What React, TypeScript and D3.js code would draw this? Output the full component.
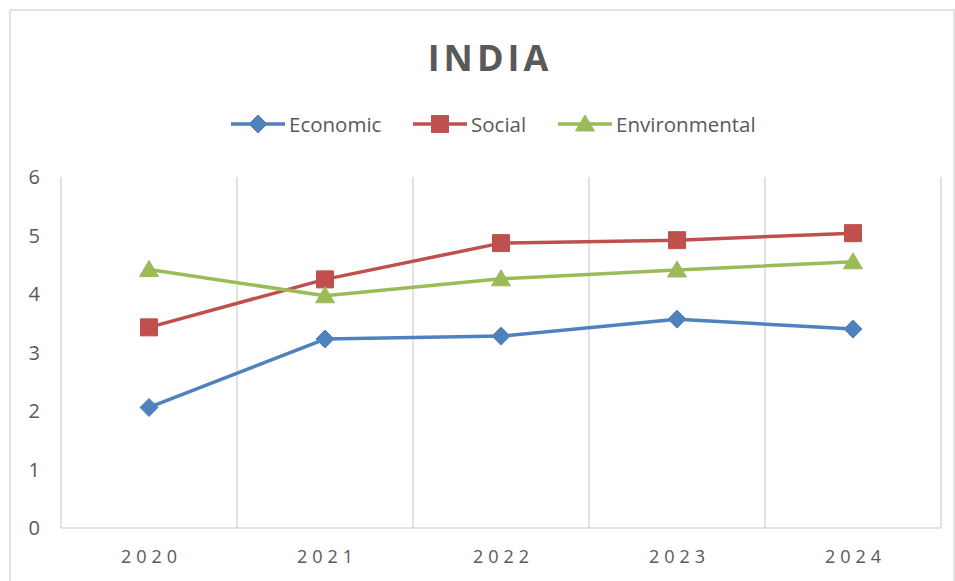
import React from "react";
import * as d3 from "d3";

const years = ["2020", "2021", "2022", "2023", "2024"];
const economic = [2.06, 3.23, 3.28, 3.57, 3.4];
const social = [3.43, 4.25, 4.87, 4.92, 5.04];
const environmental = [4.42, 3.97, 4.26, 4.41, 4.55];
const yTicks = [0, 1, 2, 3, 4, 5, 6];
const seriesNames = ["Economic", "Social", "Environmental"];
const title = "INDIA";

const W = 955;
const H = 581;
const FONT = "'Open Sans', 'Noto Sans', sans-serif";
const TXT = "#595959";
const GRID = "#d9d9d9";

const colors = ["#4f81bd", "#c0504d", "#9bbb59"];

function Marker({ kind, x, y, color }: { kind: number; x: number; y: number; color: string }) {
  let d = "";
  if (kind === 0) {
    const s = 9;
    d = `M${x},${y - s}L${x + s},${y}L${x},${y + s}L${x - s},${y}Z`;
  } else if (kind === 1) {
    const s = 8.5;
    d = `M${x - s},${y - s}H${x + s}V${y + s}H${x - s}Z`;
  } else {
    d = `M${x},${y - 9}L${x + 9.5},${y + 7}L${x - 9.5},${y + 7}Z`;
  }
  return <path d={d} fill={color} stroke={color} strokeWidth={1} strokeLinejoin="round" />;
}

export default function App() {
  const left = 61;
  const right = 941;
  const x = d3.scaleBand<string>().domain(years).range([left, right]);
  const y = d3.scaleLinear().domain([0, 6]).range([528, 177]);
  const data = [economic, social, environmental];
  const line = d3
    .line<number>()
    .x((_, i) => (x(years[i]) as number) + x.bandwidth() / 2)
    .y((v) => y(v));

  const legendItems = [
    { lx: 231, tx: 289 },
    { lx: 413, tx: 471 },
    { lx: 558, tx: 616 },
  ];
  const legendY = 124;

  return (
    <div style={{ position: "fixed", left: 0, top: 0, width: W, height: H, background: "#fff" }}>
      <svg width={W} height={H} style={{ display: "block" }}>
        <rect x={0} y={0} width={W} height={H} fill="#fff" />
        <rect x={10} y={10} width={944} height={620} fill="#fff" stroke={GRID} strokeWidth={1.5} />
        <text
          x={490}
          y={71}
          textAnchor="middle"
          fontFamily={FONT}
          fontWeight={700}
          fontSize={36}
          letterSpacing={4}
          fill={TXT}
        >
          {title}
        </text>

        {legendItems.map((it, i) => (
          <g key={seriesNames[i]}>
            <line
              x1={it.lx}
              x2={it.lx + 54}
              y1={legendY}
              y2={legendY}
              stroke={colors[i]}
              strokeWidth={3.5}
            />
            <Marker kind={i} x={it.lx + 27} y={legendY} color={colors[i]} />
            <text
              x={it.tx}
              y={legendY + 8}
              fontFamily={FONT}
              fontSize={20.5}
              fill={TXT}
            >
              {seriesNames[i]}
            </text>
          </g>
        ))}

        {d3.range(years.length + 1).map((i) => {
          const gx = left + i * x.step();
          return (
            <line key={i} x1={gx} x2={gx} y1={y(6)} y2={y(0)} stroke={GRID} strokeWidth={1.5} />
          );
        })}
        <line x1={left} x2={right} y1={y(0)} y2={y(0)} stroke={GRID} strokeWidth={1.5} />

        {yTicks.map((t) => (
          <text
            key={t}
            x={40}
            y={y(t) + 7}
            textAnchor="end"
            fontFamily={FONT}
            fontSize={20}
            fill={TXT}
          >
            {t}
          </text>
        ))}

        {years.map((yr) => (
          <text
            key={yr}
            x={(x(yr) as number) + x.bandwidth() / 2 + 2.5}
            y={563}
            textAnchor="middle"
            fontFamily={FONT}
            fontSize={18}
            letterSpacing={5}
            fill={TXT}
          >
            {yr}
          </text>
        ))}

        {data.map((vals, si) => (
          <g key={seriesNames[si]}>
            <path
              d={line(vals) || ""}
              fill="none"
              stroke={colors[si]}
              strokeWidth={3.5}
              strokeLinejoin="round"
            />
            {vals.map((v, i) => (
              <Marker
                key={i}
                kind={si}
                x={(x(years[i]) as number) + x.bandwidth() / 2}
                y={y(v)}
                color={colors[si]}
              />
            ))}
          </g>
        ))}
      </svg>
    </div>
  );
}
